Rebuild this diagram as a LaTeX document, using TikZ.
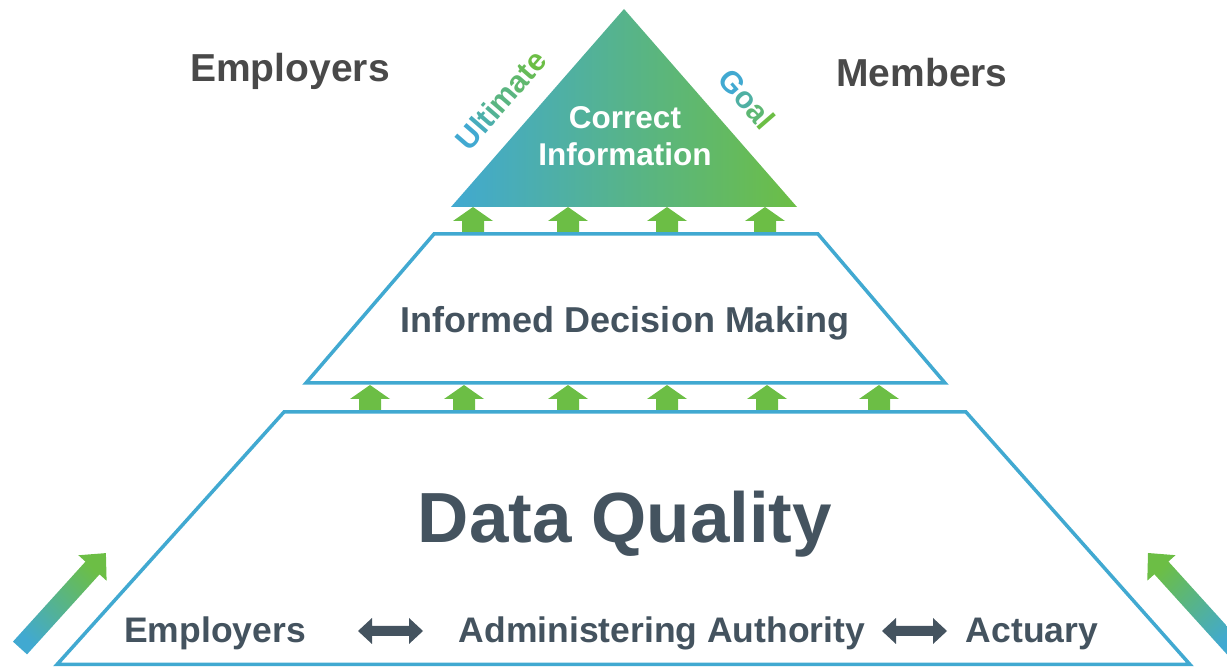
\documentclass[tikz,border=0pt]{standalone}
\usepackage{fontspec}
\setmainfont{Liberation Sans}

\definecolor{pblue}{HTML}{41A9D1}
\definecolor{pgreen}{HTML}{6CBE45}
\definecolor{slate}{HTML}{44535F}
\definecolor{graytxt}{HTML}{494949}

% one letter of a blue-to-green word: #1 = percent of green
\newcommand\gradletter[2]{\textcolor{pgreen!#1!pblue}{#2}}

\tikzset{
  frame/.style={draw=pblue, line width=3.5pt, line join=miter},
  liftarrow/.style={fill=pgreen},
  linkarrow/.style={fill=slate},
  sidetxt/.style={font=\fontsize{39}{44}\selectfont\bfseries, text=graytxt, anchor=base, inner sep=0pt},
  infotxt/.style={font=\fontsize{31.5}{37}\selectfont\bfseries, text=white, anchor=base, inner sep=0pt},
  goaltxt/.style={font=\fontsize{30.5}{35}\selectfont\bfseries, inner sep=0pt},
  midtxt/.style={font=\fontsize{36}{42}\selectfont\bfseries, text=slate, anchor=base, inner sep=0pt},
  bigtxt/.style={font=\fontsize{71}{80}\selectfont\bfseries, text=slate, anchor=base, inner sep=0pt},
  rowtxt/.style={font=\fontsize{35.5}{40}\selectfont\bfseries, text=slate, anchor=base, inner sep=0pt},
}

% green upward arrow: #1 = centre x, #2 = bottom y
\newcommand\upliftarrow[2]{%
  \fill[liftarrow] (#1-11,#2) -- (#1+11,#2) -- (#1+11,#2+13) -- (#1+20,#2+13)
    -- (#1,#2+27) -- (#1-20,#2+13) -- (#1-11,#2+13) -- cycle;}

% dark two-headed arrow: #1 = left x, #2 = centre y
\newcommand\twowayarrow[2]{%
  \fill[linkarrow] (#1,#2) -- (#1+14,#2+13) -- (#1+14,#2+5) -- (#1+51,#2+5)
    -- (#1+51,#2+13) -- (#1+65,#2) -- (#1+51,#2-13) -- (#1+51,#2-5)
    -- (#1+14,#2-5) -- (#1+14,#2-13) -- cycle;}

\begin{document}
\begin{tikzpicture}[x=1pt, y=1pt]
  \useasboundingbox (0,0) rectangle (1227,667);

  % lifting arrows between the levels
  \foreach \ax in {473,568,667,765} {\upliftarrow{\ax}{433}}
  \foreach \ax in {370,464,568,667,767,879} {\upliftarrow{\ax}{255}}

  % apex: shaded triangle
  \shade[left color=pblue, right color=pgreen]
    (624,658) -- (797,460) -- (451,460) -- cycle;

  % middle and bottom levels
  \draw[frame] (434,433) -- (818,433) -- (945,284) -- (306,284) -- cycle;
  \draw[frame] (284,255) -- (966,255) -- (1190,2.5) -- (57,2.5) -- cycle;

  % two-headed arrows along the base
  \twowayarrow{358}{36}
  \twowayarrow{882}{36}

  % rising arrows at the corners
  \shade[bottom color=pblue, top color=pgreen, shading angle=-45]
    (12.96,25.37) -- (85.46,105.37) -- (78.4,111.75) -- (105.9,113.9)
    -- (106.6,86.25) -- (99.54,92.63) -- (27.04,12.63) -- cycle;
  \begin{scope}
    \clip (0,0) rectangle (1227,667);
    \shade[bottom color=pblue, top color=pgreen, shading angle=45]
      (1226.9,12.7) -- (1154.4,92.7) -- (1147.3,86.4) -- (1148,114)
      -- (1175.5,111.8) -- (1168.4,105.5) -- (1240.9,25.5) -- cycle;
  \end{scope}

  % labels
  \node[sidetxt] (emptop) at (290,585) {Employers};
  \node[sidetxt] (members) at (922,580) {Members};
  \node[infotxt] (correct) at (625,538) {Correct};
  \node[infotxt] (information) at (625,501) {Information};
  \node[goaltxt, rotate=49] (ultimate) at (501,567)
    {\gradletter{0}{U}\gradletter{14}{l}\gradletter{28}{t}\gradletter{43}{i}%
     \gradletter{57}{m}\gradletter{71}{a}\gradletter{86}{t}\gradletter{100}{e}};
  \node[goaltxt, rotate=-49] (goal) at (747,568)
    {\gradletter{0}{G}\gradletter{33}{o}\gradletter{67}{a}\gradletter{100}{l}};
  \node[midtxt] (decision) at (625,334) {Informed Decision Making};
  \node[bigtxt] (quality) at (625,124) {Data Quality};
  \node[rowtxt] (employers) at (215,24) {Employers};
  \node[rowtxt] (authority) at (662,24) {Administering Authority};
  \node[rowtxt] (actuary) at (1032,24) {Actuary};
\end{tikzpicture}
\end{document}
